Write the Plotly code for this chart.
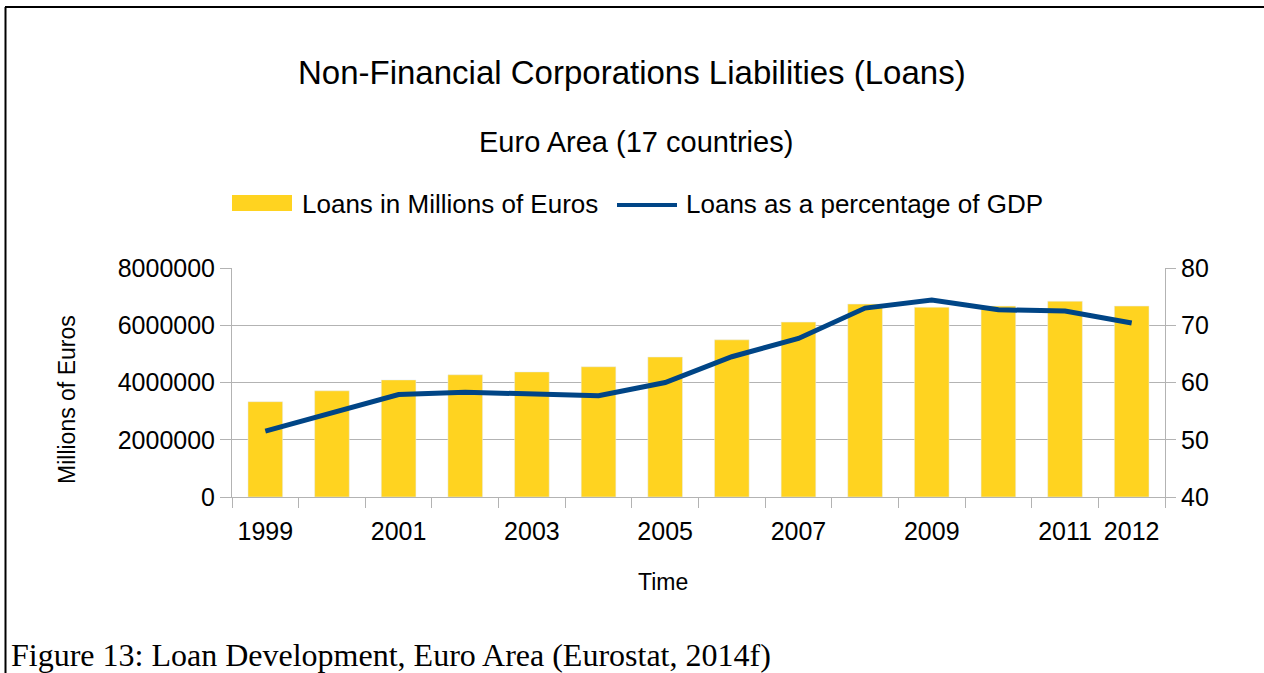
import plotly.graph_objects as go

years = [1999, 2000, 2001, 2002, 2003, 2004, 2005, 2006, 2007, 2008, 2009, 2010, 2011, 2012]
loans_meur = [3330000, 3710000, 4090000, 4270000, 4370000, 4550000, 4890000, 5490000,
              6110000, 6740000, 6630000, 6670000, 6840000, 6670000]
loans_pct_gdp = [51.5, 54.8, 57.9, 58.3, 57.9, 57.7, 60.0, 64.5, 67.7, 73.0, 74.4, 72.7, 72.5, 70.4]
tick_years = [1999, 2001, 2003, 2005, 2007, 2009, 2011, 2012]
boundaries = [y - 0.5 for y in years] + [years[-1] + 0.5]

BAR = "#FFD320"
LINE = "#004586"
GRID = "#B3B3B3"
FONT = "Liberation Sans, Arial, sans-serif"

W, H = 1264, 673
L, R, T, B = 232, 1165, 268, 497

def px(x):
    return (x - L) / (R - L)

def py(y):
    return (B - y) / (B - T)

fig = go.Figure()
fig.add_trace(go.Bar(x=years, y=loans_meur, marker_color=BAR, width=0.52,
                     name="Loans in Millions of Euros", showlegend=False))
fig.add_trace(go.Scatter(x=years, y=loans_pct_gdp, mode="lines", yaxis="y2",
                         line=dict(color=LINE, width=5),
                         name="Loans as a percentage of GDP", showlegend=False))

shapes = [
    # frame
    dict(type="line", xref="paper", yref="paper", x0=px(5), x1=px(1264), y0=py(7), y1=py(7),
         line=dict(color="black", width=2)),
    dict(type="line", xref="paper", yref="paper", x0=px(5.5), x1=px(5.5), y0=py(7), y1=py(673),
         line=dict(color="black", width=2)),
    # legend symbols
    dict(type="rect", xref="paper", yref="paper", x0=px(232), x1=px(292), y0=py(211), y1=py(195),
         fillcolor=BAR, line=dict(width=0)),
    dict(type="line", xref="paper", yref="paper", x0=px(617), x1=px(677), y0=py(205), y1=py(205),
         line=dict(color=LINE, width=4)),
]

annotations = [
    dict(text="Non-Financial Corporations Liabilities (Loans)", x=px(632), y=py(73),
         font=dict(size=33, family=FONT, color="black")),
    dict(text="Euro Area (17 countries)", x=px(636), y=py(142),
         font=dict(size=29, family=FONT, color="black")),
    dict(text="Loans in Millions of Euros", x=px(300), y=py(204), xanchor="left",
         font=dict(size=26, family=FONT, color="black")),
    dict(text="Loans as a percentage of GDP", x=px(684), y=py(204), xanchor="left",
         font=dict(size=26, family=FONT, color="black")),
    dict(text="Millions of Euros", x=px(67), y=py(400), textangle=-90,
         font=dict(size=23, family=FONT, color="black")),
    dict(text="Time", x=px(663), y=py(582),
         font=dict(size=23, family=FONT, color="black")),
    dict(text="Figure 13: Loan Development, Euro Area (Eurostat, 2014f)", x=px(9), y=py(655),
         xanchor="left", font=dict(size=32, family="Liberation Serif, Times New Roman, serif", color="black")),
]
for a in annotations:
    a.update(xref="paper", yref="paper", showarrow=False)
    a.setdefault("xanchor", "center")
    a["yanchor"] = "middle"

fig.update_layout(
    width=W, height=H,
    margin=dict(l=L, r=W - R, t=T, b=H - B, pad=0),
    paper_bgcolor="white", plot_bgcolor="white",
    font=dict(family=FONT, size=25, color="black"),
    showlegend=False,
    shapes=shapes,
    annotations=annotations,
    xaxis=dict(range=[1998.5, 2012.5], tickmode="array", tickvals=tick_years,
               ticktext=[str(y) for y in tick_years],
               ticks="outside", ticklen=12, tickcolor="rgba(0,0,0,0)",
               showgrid=False, zeroline=False,
               showline=True, linecolor=GRID, linewidth=1,
               tickfont=dict(size=25),
               minor=dict(tickmode="array", tickvals=boundaries, ticks="outside",
                          ticklen=10, tickcolor=GRID, tickwidth=1, showgrid=False)),
    yaxis=dict(range=[0, 8000000], tickmode="array",
               tickvals=[0, 2000000, 4000000, 6000000, 8000000],
               ticktext=["0", "2000000", "4000000", "6000000", "8000000"],
               ticks="outside", ticklen=11, tickcolor=GRID,
               showgrid=True, gridcolor=GRID, gridwidth=1, zeroline=False,
               showline=True, linecolor=GRID, linewidth=1,
               tickfont=dict(size=25)),
    yaxis2=dict(range=[40, 80], tickvals=[40, 50, 60, 70, 80], overlaying="y", side="right",
                ticks="outside", ticklen=10, tickcolor=GRID,
                showgrid=False, zeroline=False,
                showline=True, linecolor=GRID, linewidth=1,
                tickfont=dict(size=25)),
)

fig.write_html("out.html", config={"displayModeBar": False},
               post_script="document.body.style.margin='0';document.body.style.overflow='hidden';")
